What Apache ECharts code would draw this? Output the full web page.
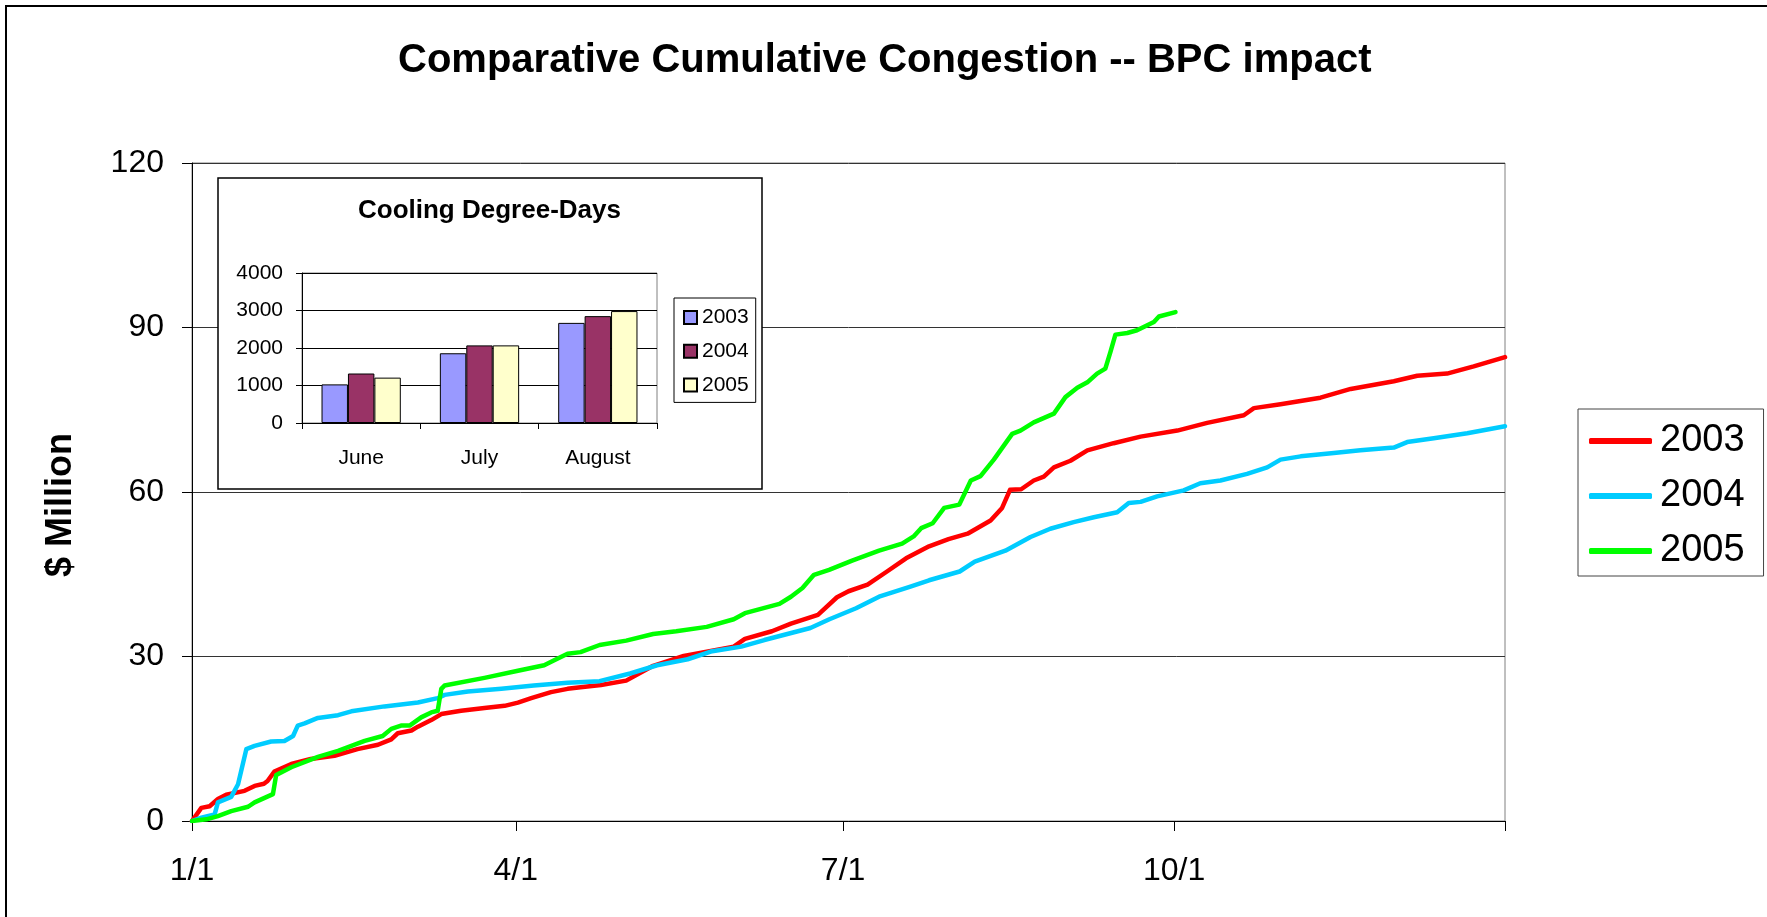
<!DOCTYPE html>
<html>
<head>
<meta charset="utf-8">
<script src="https://cdn.jsdelivr.net/npm/echarts@6/dist/echarts.min.js"></script>
<style>
html,body{margin:0;padding:0;background:#fff;}
#chart{width:1767px;height:917px;}
</style>
</head>
<body>
<div id="chart"></div>
<script>
// ---- Data (day of year, $ Million) ----
var days2003 = [0,2.6,4.9,7.2,9.5,14.6,17.4,20,21,22.9,27.6,33,39.6,46,51.7,55.4,57.2,61,62.8,66.5,69.3,74.8,81.3,86.9,90.6,94.3,99.8,104.4,108,113.7,120.7,128.2,136.7,150.6,153.7,161.2,166.5,174,179.3,182.5,187.8,193.2,198.5,204.9,210.3,215.6,222,225.2,227.4,230.5,234,236.8,239.6,244.2,248.9,256.2,263.7,273.9,282.2,292.4,295.2,302.6,313.7,322.1,334.1,340.6,348.9,356.3,365];
var vals2003 = [0,2.4,2.7,4.0,4.8,5.5,6.4,6.8,7.3,9.0,10.4,11.3,11.9,13.1,13.9,14.9,16.0,16.5,17.2,18.4,19.5,20.1,20.6,21.0,21.6,22.4,23.5,24.1,24.4,24.8,25.6,28.3,30.1,31.8,33.2,34.6,36.0,37.6,40.8,41.9,43.1,45.5,47.9,50.1,51.4,52.4,54.8,57.1,60.4,60.5,62.1,62.8,64.5,65.7,67.6,68.9,70.1,71.2,72.6,74.0,75.3,76.0,77.2,78.8,80.2,81.2,81.6,82.9,84.6];

var days2004 = [0,2.6,6.3,7.2,10.9,12.8,15.1,17.4,22,25.7,28.1,29.4,31.3,35,40.6,44.3,53.5,62.8,68.3,70.2,76.7,86,95,104.4,113.3,121.8,129.3,137.8,144.2,152.7,159.1,171.9,177.2,184.6,191,199.5,204.9,213.4,217.6,226.1,233.1,238.6,245.1,250.7,257.2,260.4,263.7,268.3,275.7,280.3,285.9,293.3,298.9,302.6,308.2,317.4,324.8,334.1,337.8,345.2,354.5,365];
var vals2004 = [0,0.6,1.2,3.4,4.4,6.7,13.1,13.7,14.5,14.6,15.5,17.4,17.8,18.8,19.3,20.0,20.9,21.6,22.4,23.0,23.6,24.1,24.7,25.2,25.5,26.9,28.4,29.5,30.9,31.8,33.0,35.2,36.8,38.8,40.9,42.7,43.9,45.5,47.3,49.3,51.8,53.3,54.5,55.4,56.3,58.0,58.2,59.2,60.3,61.6,62.1,63.3,64.5,65.9,66.5,67.1,67.6,68.1,69.1,69.8,70.7,72.0];

var days2005 = [0,4,7.2,10.9,15.6,17.4,22.5,23.4,27.6,35,40.6,48,53,55.4,58.1,60.5,63.7,66.5,68.3,69.3,70.2,81.3,90.6,97.9,100.7,104.4,108,113.3,120.7,128.2,134.6,143.1,150.6,153.7,163.3,166.5,169.7,172.9,177.1,183.5,191,197.4,200.6,202.7,205.9,209.1,213.3,216.5,219.2,222.9,228,230.3,234,239.6,242.8,246.1,248.9,251.6,253.9,255.3,256.7,260,262.7,267.4,268.8,273.4];
var vals2005 = [0,0.3,0.9,1.8,2.6,3.4,4.9,8.4,9.8,11.7,12.8,14.6,15.5,16.8,17.4,17.4,18.9,19.8,20.1,24.1,24.7,26.1,27.4,28.4,29.3,30.5,30.8,32.1,32.9,34.1,34.6,35.4,36.8,37.9,39.6,40.9,42.5,44.9,45.8,47.5,49.3,50.6,51.9,53.4,54.3,57.1,57.7,62.1,62.9,65.9,70.6,71.2,72.7,74.3,77.3,79.0,80.0,81.6,82.5,85.5,88.7,89.0,89.5,91.0,92.0,92.8];

var xTickDays = [0,90,181,273,365];
var xLabelDays = [0,90,181,273];
var xLabelText = ['1/1','4/1','7/1','10/1'];

// ---- Inset: Cooling Degree-Days ----
var cddMonths = ['June','July','August'];
var cdd2003 = [1030,1860,2670];
var cdd2004 = [1320,2070,2850];
var cdd2005 = [1210,2070,2985];

var FONT = "'Liberation Sans', Arial, Helvetica, sans-serif";
function zip(d, v){ return d.map(function(x,i){ return [x, v[i]]; }); }

var chart = echarts.init(document.getElementById('chart'), null, {renderer:'canvas'});

var lineBase = {
  type:'line', xAxisIndex:0, yAxisIndex:0, symbol:'none', showSymbol:false,
  smooth:false, z:2, animation:false
};

var option = {
  backgroundColor:'#ffffff',
  animation:false,
  textStyle:{fontFamily:FONT},
  title:[
    {text:'Comparative Cumulative Congestion -- BPC impact', left:398, top:41, padding:0,
     textStyle:{fontFamily:FONT, fontSize:40, fontWeight:'bold', color:'#000', lineHeight:40}},
    {text:'Cooling Degree-Days', left:358, top:198, padding:0, z:10,
     textStyle:{fontFamily:FONT, fontSize:26, fontWeight:'bold', color:'#000', lineHeight:26}}
  ],
  graphic:[
    {type:'rect', z:0, silent:true, shape:{x:6, y:6, width:2000, height:2000},
     style:{fill:'none', stroke:'#000', lineWidth:2}},
    {type:'rect', z:1, silent:true, shape:{x:218, y:178, width:544, height:311},
     style:{fill:'#fff', stroke:'#000', lineWidth:1.5}},
    {type:'text', z:5, silent:true, x:61, y:505, rotation:Math.PI/2,
     style:{text:'$ Million', font:'bold 36px ' + FONT, fill:'#000', textAlign:'center', textVerticalAlign:'middle'}}
  ],
  legend:[
    {data:['2003','2004','2005'], orient:'vertical', left:1578, top:409,
     padding:[13,19,6,11], itemGap:17, itemWidth:63, itemHeight:6, icon:'roundRect',
     borderColor:'#444', borderWidth:1, selectedMode:false,
     textStyle:{fontFamily:FONT, fontSize:38, color:'#000', lineHeight:38, padding:[0,0,0,3]}},
    {data:['CDD 2003','CDD 2004','CDD 2005'], orient:'vertical', left:674, top:298, z:10,
     padding:[9,7,7,9], itemGap:12.7, itemWidth:13, itemHeight:13, icon:'rect',
     borderColor:'#000', borderWidth:1, selectedMode:false,
     formatter:function(n){ return n.replace('CDD ',''); },
     textStyle:{fontFamily:FONT, fontSize:21, color:'#000', lineHeight:21}}
  ],
  grid:[
    {left:192, top:163, width:1313, height:658, show:true, borderColor:'#808080', borderWidth:1, backgroundColor:'transparent'},
    {left:302, top:273, width:355, height:150, show:true, borderColor:'#808080', borderWidth:1, backgroundColor:'transparent', z:3}
  ],
  xAxis:[
    {type:'value', gridIndex:0, min:0, max:365,
     axisLine:{show:true, lineStyle:{color:'#000', width:1}},
     axisTick:{show:true, length:10, customValues:xTickDays, lineStyle:{color:'#000'}},
     axisLabel:{show:true, customValues:xLabelDays, margin:34, fontSize:32, color:'#000', fontFamily:FONT,
       formatter:function(v){ var i = xLabelDays.indexOf(v); return i>=0 ? xLabelText[i] : ''; }},
     splitLine:{show:false}},
    {type:'category', gridIndex:1, data:cddMonths, z:3,
     axisLine:{show:true, lineStyle:{color:'#000', width:1}},
     axisTick:{show:true, length:6, alignWithLabel:false, lineStyle:{color:'#000'}},
     axisLabel:{margin:25, fontSize:21, color:'#000', fontFamily:FONT},
     splitLine:{show:false}}
  ],
  yAxis:[
    {type:'value', gridIndex:0, min:0, max:120, interval:30,
     axisLine:{show:true, lineStyle:{color:'#000', width:1}},
     axisTick:{show:true, length:10, lineStyle:{color:'#000'}},
     axisLabel:{margin:28, fontSize:32, color:'#000', fontFamily:FONT},
     splitLine:{show:true, lineStyle:{color:'#333', width:1}}},
    {type:'value', gridIndex:1, min:0, max:4000, interval:1000, z:3,
     axisLine:{show:true, lineStyle:{color:'#000', width:1}},
     axisTick:{show:true, length:6, lineStyle:{color:'#000'}},
     axisLabel:{margin:19, fontSize:21, color:'#000', fontFamily:FONT,
       formatter:function(v){ return String(v); }},
     splitLine:{show:true, lineStyle:{color:'#000', width:1}}}
  ],
  series:[
    Object.assign({}, lineBase, {name:'2003', data:zip(days2003, vals2003), color:'#ff0000',
      lineStyle:{color:'#ff0000', width:4.5, cap:'round', join:'round'}}),
    Object.assign({}, lineBase, {name:'2004', data:zip(days2004, vals2004), color:'#00ccff',
      lineStyle:{color:'#00ccff', width:4.5, cap:'round', join:'round'}}),
    Object.assign({}, lineBase, {name:'2005', data:zip(days2005, vals2005), color:'#00ff00',
      lineStyle:{color:'#00ff00', width:4.5, cap:'round', join:'round'}}),
    {type:'bar', name:'CDD 2003', xAxisIndex:1, yAxisIndex:1, data:cdd2003, z:4,
     barGap:'0%', barCategoryGap:'33%',
     itemStyle:{color:'#9999ff', borderColor:'#000', borderWidth:1}},
    {type:'bar', name:'CDD 2004', xAxisIndex:1, yAxisIndex:1, data:cdd2004, z:4,
     barGap:'0%', barCategoryGap:'33%',
     itemStyle:{color:'#993366', borderColor:'#000', borderWidth:1}},
    {type:'bar', name:'CDD 2005', xAxisIndex:1, yAxisIndex:1, data:cdd2005, z:4,
     barGap:'0%', barCategoryGap:'33%',
     itemStyle:{color:'#ffffcc', borderColor:'#000', borderWidth:1}}
  ]
};
chart.setOption(option);
</script>
</body>
</html>
